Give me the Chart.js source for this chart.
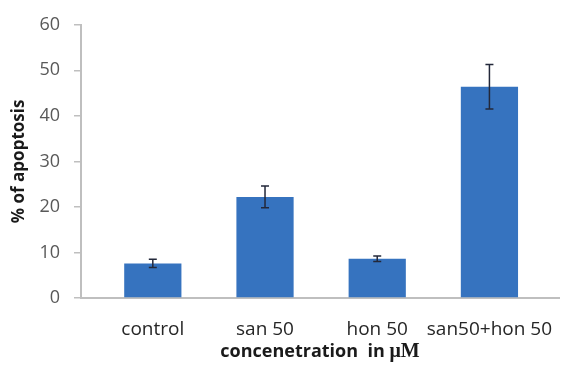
<!DOCTYPE html>
<html>
<head>
<meta charset="utf-8">
<script src="https://cdn.jsdelivr.net/npm/chart.js@4.4.1/dist/chart.umd.min.js"></script>
<style>
  body { margin: 0; background: #fff; }
  #wrap { width: 566px; height: 368px; }
</style>
</head>
<body>
<div id="wrap"><canvas id="apoptosisChart" width="566" height="368"></canvas></div>
<script>
// treatment groups and mean % apoptosis with error (±)
const groups = ['control', 'san 50', 'hon 50', 'san50+hon 50'];
const apoptosis = [7.6, 22.2, 8.6, 46.4];
const errors = [0.9, 2.4, 0.6, 4.9];
const yTicks = [0, 10, 20, 30, 40, 50, 60];

const barColor = '#3673BF';
const axisColor = '#BFBFBF';

// error bars with small caps, drawn on top of the bars
const errorBars = {
    id: 'errorBars',
    afterDatasetsDraw(chart) {
        const ctx = chart.ctx;
        const yScale = chart.scales.y;
        const meta = chart.getDatasetMeta(0);
        ctx.save();
        ctx.strokeStyle = '#23283a';
        ctx.lineWidth = 1.5;
        meta.data.forEach((bar, i) => {
            const top = yScale.getPixelForValue(apoptosis[i] + errors[i]);
            const bottom = yScale.getPixelForValue(apoptosis[i] - errors[i]);
            ctx.beginPath();
            ctx.moveTo(bar.x, top);
            ctx.lineTo(bar.x, bottom);
            ctx.moveTo(bar.x - 4, top);
            ctx.lineTo(bar.x + 4, top);
            ctx.moveTo(bar.x - 4, bottom);
            ctx.lineTo(bar.x + 4, bottom);
            ctx.stroke();
        });
        ctx.restore();
    }
};

// x axis title, the unit is set in a serif face
const xTitle = {
    id: 'xTitle',
    afterDraw(chart) {
        const ctx = chart.ctx;
        const area = chart.chartArea;
        const part1 = 'concenetration  in ';
        const part2 = 'μM';
        ctx.save();
        ctx.textBaseline = 'middle';
        ctx.fillStyle = '#1a1a1a';
        ctx.font = 'bold 18px "Open Sans"';
        const w1 = ctx.measureText(part1).width;
        ctx.font = 'bold 20px "Liberation Serif"';
        const w2 = ctx.measureText(part2).width;
        let x = (area.left + area.right) / 2 - (w1 + w2) / 2;
        ctx.font = 'bold 18px "Open Sans"';
        ctx.fillText(part1, x, 352);
        ctx.font = 'bold 20px "Liberation Serif"';
        ctx.fillText(part2, x + w1, 352);
        ctx.restore();
    }
};

new Chart(document.getElementById('apoptosisChart').getContext('2d'), {
    type: 'bar',
    data: {
        datasets: [{
            data: apoptosis.map((v, i) => ({ x: i, y: v })),
            backgroundColor: barColor,
            borderWidth: 0,
            barPercentage: 0.51,
            categoryPercentage: 1
        }]
    },
    options: {
        responsive: false,
        animation: false,
        layout: { padding: { top: 24, right: 7, left: 9, bottom: 0 } },
        plugins: {
            legend: { display: false },
            tooltip: { enabled: false }
        },
        scales: {
            x: {
                type: 'linear',
                offset: false,
                min: -0.64,
                max: 3.62,
                afterBuildTicks: (scale) => {
                    scale.ticks = groups.map((g, i) => ({ value: i }));
                },
                afterFit: (scale) => {
                    scale.height = 70;
                    scale.paddingLeft = 0;
                    scale.paddingRight = 0;
                },
                grid: { display: false, drawTicks: false },
                border: { color: axisColor, width: 2 },
                ticks: {
                    callback: (v) => groups[v],
                    color: '#262626',
                    padding: 20,
                    maxRotation: 0,
                    autoSkip: false,
                    font: { family: 'Open Sans', size: 19 }
                }
            },
            y: {
                min: 0,
                max: 60,
                afterBuildTicks: (scale) => {
                    scale.ticks = yTicks.map(v => ({ value: v }));
                },
                afterFit: (scale) => { scale.width = 72; },
                grid: {
                    drawOnChartArea: false,
                    tickLength: 7,
                    color: axisColor,
                    lineWidth: 1.5
                },
                border: { color: axisColor, width: 2 },
                ticks: {
                    color: '#595959',
                    padding: 14,
                    font: { family: 'Open Sans', size: 18 }
                },
                title: {
                    display: true,
                    text: '% of apoptosis',
                    color: '#1a1a1a',
                    padding: { top: 0, bottom: 0 },
                    font: { family: 'Open Sans', size: 17, weight: 'bold' }
                }
            }
        }
    },
    plugins: [errorBars, xTitle]
});
</script>
</body>
</html>
